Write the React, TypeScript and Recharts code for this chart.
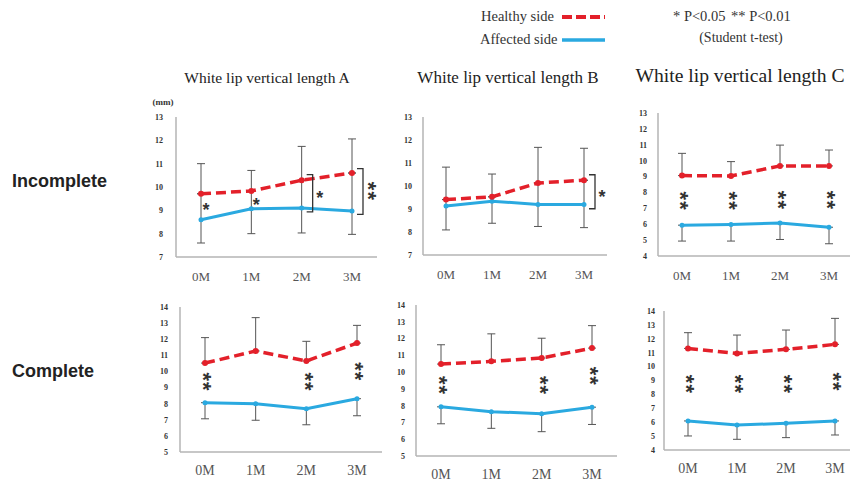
import React from 'react';
import { LineChart, Line, XAxis, YAxis, ErrorBar, ReferenceDot, ReferenceLine } from 'recharts';

const months = ['0M', '1M', '2M', '3M'];

// Incomplete cleft: values, top of healthy SD bar, bottom of affected SD bar
const incAHealthy = [9.71, 9.83, 10.29, 10.6];
const incAHealthyTop = [11.0, 10.71, 11.74, 12.06];
const incAAffected = [8.6, 9.07, 9.1, 8.97];
const incAAffectedLow = [7.6, 8.0, 8.03, 7.97];

const incBHealthy = [9.41, 9.53, 10.13, 10.25];
const incBHealthyTop = [10.82, 10.52, 11.68, 11.64];
const incBAffected = [9.13, 9.34, 9.2, 9.2];
const incBAffectedLow = [8.09, 8.38, 8.24, 8.19];

const incCHealthy = [9.06, 9.04, 9.67, 9.67];
const incCHealthyTop = [10.46, 9.94, 10.98, 10.67];
const incCAffected = [5.94, 5.98, 6.08, 5.81];
const incCAffectedLow = [4.94, 4.94, 5.04, 4.77];

// Complete cleft
const compAHealthy = [10.52, 11.27, 10.65, 11.76];
const compAHealthyTop = [12.1, 13.34, 11.87, 12.86];
const compAAffected = [8.06, 8.0, 7.69, 8.31];
const compAAffectedLow = [7.06, 6.97, 6.69, 7.25];

const compBHealthy = [10.48, 10.64, 10.84, 11.43];
const compBHealthyTop = [11.63, 12.28, 12.02, 12.77];
const compBAffected = [7.93, 7.64, 7.52, 7.91];
const compBAffectedLow = [6.92, 6.65, 6.45, 6.88];

const compCHealthy = [11.31, 10.95, 11.24, 11.6];
const compCHealthyTop = [12.44, 12.27, 12.63, 13.47];
const compCAffected = [6.09, 5.8, 5.92, 6.09];
const compCAffectedLow = [5.01, 4.77, 4.89, 5.08];

const ticks7to13 = [7, 8, 9, 10, 11, 12, 13];
const ticks4to13 = [4, 5, 6, 7, 8, 9, 10, 11, 12, 13];
const ticks5to14 = [5, 6, 7, 8, 9, 10, 11, 12, 13, 14];
const ticks4to14 = [4, 5, 6, 7, 8, 9, 10, 11, 12, 13, 14];

type Star = { m: string; v: number; n: number };
type Bracket = { m: string; from: number; to: number; n: number };

const incAStars: Star[] = [{ m: '0M', v: 9.24, n: 1 }, { m: '1M', v: 9.43, n: 1 }];
const incABrackets: Bracket[] = [{ m: '2M', from: 10.53, to: 8.93, n: 1 }, { m: '3M', from: 10.79, to: 8.83, n: 2 }];
const incBBrackets: Bracket[] = [{ m: '3M', from: 10.49, to: 9.01, n: 1 }];
const incCStars: Star[] = [{ m: '0M', v: 7.45, n: 2 }, { m: '1M', v: 7.45, n: 2 }, { m: '2M', v: 7.5, n: 2 }, { m: '3M', v: 7.5, n: 2 }];
const compAStars: Star[] = [{ m: '0M', v: 9.34, n: 2 }, { m: '2M', v: 9.34, n: 2 }, { m: '3M', v: 9.98, n: 2 }];
const compBStars: Star[] = [{ m: '0M', v: 9.2, n: 2 }, { m: '2M', v: 9.2, n: 2 }, { m: '3M', v: 9.75, n: 2 }];
const compCStars: Star[] = [{ m: '0M', v: 8.72, n: 2 }, { m: '1M', v: 8.72, n: 2 }, { m: '2M', v: 8.72, n: 2 }, { m: '3M', v: 8.89, n: 2 }];

const RED = '#e3202a';
const BLUE = '#2aa9e0';
const BAR = '#555';
const AXIS = '#b5b5b5';
const SERIF = '"Liberation Serif", "DejaVu Serif", serif';
const SANS = '"Liberation Sans", Arial, sans-serif';

// "**" is drawn as one text turned on its side so the two stars stack vertically
function Asterisks({ cx, cy, n }: { cx: number; cy: number; n: number }) {
  if (n === 2) {
    const size = 22;
    return (
      <text
        x={cx}
        y={cy + size * 0.4}
        transform={`rotate(90 ${cx} ${cy})`}
        textAnchor="middle"
        letterSpacing={1}
        fontFamily={SANS}
        fontWeight="bold"
        fontSize={size}
        fill="#333"
      >
        **
      </text>
    );
  }
  const size = 18;
  return (
    <text x={cx} y={cy + size * 0.6} textAnchor="middle" fontFamily={SANS} fontWeight="bold" fontSize={size} fill="#333">
      *
    </text>
  );
}

type PanelProps = {
  left: number; right: number; top: number; bottom: number;
  domain: [number, number]; ticks: number[];
  healthy: number[]; healthyTop: number[]; affected: number[]; affectedLow: number[];
  joined?: boolean; stars?: Star[]; brackets?: Bracket[];
  xFont: number; xGap: number; yGap: number; pad: number;
};

function Panel(p: PanelProps) {
  const ML = 10, YW = 30, MT = 10, MR = 20, XH = 30, MB = 5;
  const data = months.map((m, i) => ({
    m,
    h: p.healthy[i],
    a: p.affected[i],
    hErr: [0, p.healthyTop[i] - p.healthy[i]],
    aErr: [p.affected[i] - p.affectedLow[i], p.joined ? p.healthy[i] - p.affected[i] : 0],
  }));
  return (
    <div style={{ position: 'absolute', left: p.left - ML - YW, top: p.top - MT }}>
      <LineChart
        width={p.right - p.left + ML + YW + MR}
        height={p.bottom - p.top + MT + XH + MB}
        data={data}
        margin={{ top: MT, right: MR, bottom: MB, left: ML }}
      >
        <XAxis
          dataKey="m"
          height={XH}
          padding={{ left: p.pad, right: p.pad }}
          tickLine={false}
          tickSize={0}
          tickMargin={p.xGap}
          axisLine={{ stroke: AXIS, strokeWidth: 1.5 }}
          tick={{ fontFamily: SERIF, fontSize: p.xFont, fill: '#555' }}
        />
        <YAxis
          type="number"
          width={YW}
          domain={p.domain}
          ticks={p.ticks}
          interval={0}
          allowDataOverflow
          tickLine={false}
          tickSize={0}
          tickMargin={p.yGap}
          axisLine={{ stroke: AXIS, strokeWidth: 1.5 }}
          tick={{ fontFamily: SERIF, fontSize: 8, fontWeight: 'bold', fill: '#333' }}
        />
        <Line
          dataKey="a"
          stroke={BLUE}
          strokeWidth={3}
          dot={{ r: 2.5, fill: BLUE, stroke: BLUE, strokeWidth: 0 }}
          activeDot={false}
          isAnimationActive={false}
        >
          <ErrorBar dataKey="aErr" direction="y" width={4} stroke={BAR} strokeWidth={1} />
        </Line>
        <Line
          dataKey="h"
          stroke={RED}
          strokeWidth={3.5}
          strokeDasharray="10 5"
          dot={{ r: 3, fill: RED, stroke: RED, strokeWidth: 0 }}
          activeDot={false}
          isAnimationActive={false}
        >
          <ErrorBar dataKey="hErr" direction="y" width={4} stroke={BAR} strokeWidth={1} />
        </Line>
        {(p.stars ?? []).map((s, i) => (
          <ReferenceDot
            key={'s' + i}
            x={s.m}
            y={s.v}
            r={0}
            ifOverflow="visible"
            shape={(d: any) => <Asterisks cx={d.cx + (s.n === 1 ? 5 : 0)} cy={d.cy} n={s.n} />}
          />
        ))}
        {(p.brackets ?? []).map((b, i) => (
          <ReferenceLine
            key={'b' + i}
            segment={[{ x: b.m, y: b.from }, { x: b.m, y: b.to }]}
            ifOverflow="visible"
            shape={(d: any) => {
              const x = d.x1 + 11;
              return (
                <g>
                  <path d={`M${x - 6},${d.y1}H${x}V${d.y2}H${x - 6}`} fill="none" stroke="#333" strokeWidth={1.3} />
                  <Asterisks cx={x + 7} cy={(d.y1 + d.y2) / 2} n={b.n} />
                </g>
              );
            }}
          />
        ))}
      </LineChart>
    </div>
  );
}

export default function App() {
  return (
    <div style={{ position: 'absolute', left: 0, top: 0, width: 850, height: 484, overflow: 'hidden', background: '#fff' }}>
      <Panel left={176} right={377} top={117} bottom={257} domain={[7, 13]} ticks={ticks7to13}
        healthy={incAHealthy} healthyTop={incAHealthyTop} affected={incAAffected} affectedLow={incAAffectedLow}
        joined stars={incAStars} brackets={incABrackets} xFont={13} xGap={15} yGap={13} pad={25} />
      <Panel left={423} right={607} top={117} bottom={255} domain={[7, 13]} ticks={ticks7to13}
        healthy={incBHealthy} healthyTop={incBHealthyTop} affected={incBAffected} affectedLow={incBAffectedLow}
        joined brackets={incBBrackets} xFont={13} xGap={15} yGap={11} pad={23} />
      <Panel left={658} right={853} top={113} bottom={256} domain={[4, 13]} ticks={ticks4to13}
        healthy={incCHealthy} healthyTop={incCHealthyTop} affected={incCAffected} affectedLow={incCAffectedLow}
        stars={incCStars} xFont={13} xGap={15} yGap={11} pad={24} />
      <Panel left={180} right={382} top={307} bottom={452} domain={[5, 14]} ticks={ticks5to14}
        healthy={compAHealthy} healthyTop={compAHealthyTop} affected={compAAffected} affectedLow={compAAffectedLow}
        stars={compAStars} xFont={14} xGap={13} yGap={12} pad={25} />
      <Panel left={416} right={617} top={305} bottom={456} domain={[5, 14]} ticks={ticks5to14}
        healthy={compBHealthy} healthyTop={compBHealthyTop} affected={compBAffected} affectedLow={compBAffectedLow}
        stars={compBStars} xFont={14} xGap={13} yGap={11} pad={25} />
      <Panel left={664} right={859} top={311} bottom={450} domain={[4, 14]} ticks={ticks4to14}
        healthy={compCHealthy} healthyTop={compCHealthyTop} affected={compCAffected} affectedLow={compCAffectedLow}
        stars={compCStars} xFont={14} xGap={13} yGap={9} pad={24} />

      <svg width={850} height={484} style={{ position: 'absolute', left: 0, top: 0, pointerEvents: 'none' }}>
        <text x={267} y={83} textAnchor="middle" fontFamily={SERIF} fontSize={15.5} fill="#222">White lip vertical length A</text>
        <text x={508} y={83} textAnchor="middle" fontFamily={SERIF} fontSize={17} fill="#222">White lip vertical length B</text>
        <text x={740} y={82} textAnchor="middle" fontFamily={SERIF} fontSize={19.6} fill="#222">White lip vertical length C</text>
        <text x={163} y={105} textAnchor="middle" fontFamily={SERIF} fontSize={9} fontWeight="bold" fill="#333">(mm)</text>

        <text x={12} y={187} fontFamily={SANS} fontSize={18} fontWeight="bold" fill="#222">Incomplete</text>
        <text x={12} y={377} fontFamily={SANS} fontSize={18} fontWeight="bold" fill="#222">Complete</text>

        <text x={481} y={21} fontFamily={SERIF} fontSize={14.5} fill="#333">Healthy side</text>
        <line x1={562} y1={17} x2={605} y2={17} stroke={RED} strokeWidth={4} strokeDasharray="10 4" />
        <text x={480} y={44} fontFamily={SERIF} fontSize={14.5} fill="#333">Affected side</text>
        <line x1={562} y1={40} x2={605} y2={40} stroke={BLUE} strokeWidth={3.5} />
        <text x={673} y={21} fontFamily={SERIF} fontSize={14.5} fill="#333">* P&lt;0.05</text>
        <text x={731} y={21} fontFamily={SERIF} fontSize={14.5} fill="#333">** P&lt;0.01</text>
        <text x={741} y={42} textAnchor="middle" fontFamily={SERIF} fontSize={14} fill="#333">(Student t-test)</text>
      </svg>
    </div>
  );
}
